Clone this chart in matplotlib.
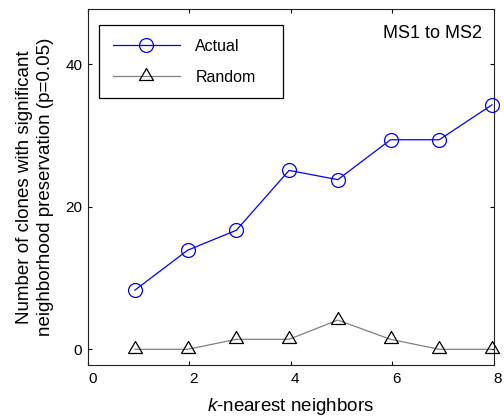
import matplotlib
matplotlib.use("Agg")
import matplotlib.pyplot as plt
from matplotlib.path import Path
from matplotlib.transforms import ScaledTranslation

plt.rcParams['font.family'] = ['Liberation Sans', 'DejaVu Sans']
plt.rcParams['mathtext.fontset'] = 'custom'
plt.rcParams['mathtext.rm'] = 'Liberation Sans'
plt.rcParams['mathtext.it'] = 'Liberation Sans:italic'

# Data
k_values = [0.93, 1.97, 2.93, 3.97, 4.93, 5.97, 6.93, 7.97]
actual = [8.3, 13.9, 16.7, 25.1, 23.8, 29.4, 29.4, 34.3]
random_counts = [0, 0, 1.4, 1.4, 4.1, 1.4, 0, 0]

x_ticks = [0, 2, 4, 6, 8]
y_ticks = [0, 20, 40]

# triangle centred on its centroid
tri = Path([(-7, -4), (7, -4), (0, 8), (-7, -4)],
           [Path.MOVETO, Path.LINETO, Path.LINETO, Path.CLOSEPOLY])

fig = plt.figure(figsize=(5.04, 4.19), dpi=100)
ax = fig.add_axes([87.7 / 504, 1 - 364.7 / 419, 405.8 / 504, 355.4 / 419])

ax.plot(k_values, actual, '-', color='#0000ff', linewidth=0.9,
        marker='o', markersize=10, markerfacecolor='none',
        markeredgecolor='#0000ff', markeredgewidth=0.9, label='Actual',
        clip_on=False, zorder=3)
ax.plot(k_values, random_counts, '-', color='#808080', linewidth=0.9,
        marker=tri, markersize=11.5, markerfacecolor='none',
        markeredgecolor='black', markeredgewidth=0.9, label='Random',
        clip_on=False, zorder=3)

ax.set_xlim(0, 8)
ax.set_ylim(-2.16, 47.7)
ax.set_xticks(x_ticks)
ax.set_yticks(y_ticks)
ax.tick_params(direction='in', length=3, width=0.8, labelsize=11,
               top=True, right=True, colors='black')
ax.tick_params(axis='x', pad=5)
ax.tick_params(axis='y', pad=4)
for spine in ax.spines.values():
    spine.set_linewidth(0.8)
    spine.set_color('#222222')

shift = ScaledTranslation(4.5 / 100, 0, fig.dpi_scale_trans)
for lbl in ax.get_xticklabels():
    lbl.set_transform(lbl.get_transform() + shift)

ax.set_xlabel(r'$\it{k}$-nearest neighbors', fontsize=13.5, va='center')
ax.xaxis.set_label_coords(0.5, -0.118)
ax.set_ylabel('Number of clones with significant\nneighborhood preservation (p=0.05)',
              fontsize=13.5, va='center', linespacing=1.28)
ax.yaxis.set_label_coords(-0.1306, 0.5)

ax.text(0.9724, 0.9325, 'MS1 to MS2', transform=ax.transAxes,
        ha='right', va='center', fontsize=13)

leg = ax.legend(loc='upper left', bbox_to_anchor=(0.0286, 0.754, 0.453, 0.202),
                mode='expand', fontsize=11.5, handlelength=4.2,
                handletextpad=0.96, borderpad=0.85, labelspacing=1.02,
                borderaxespad=0, fancybox=False, framealpha=1)
leg.get_frame().set_edgecolor('black')
leg.get_frame().set_linewidth(0.9)

fig.savefig('out.png', dpi=100)
